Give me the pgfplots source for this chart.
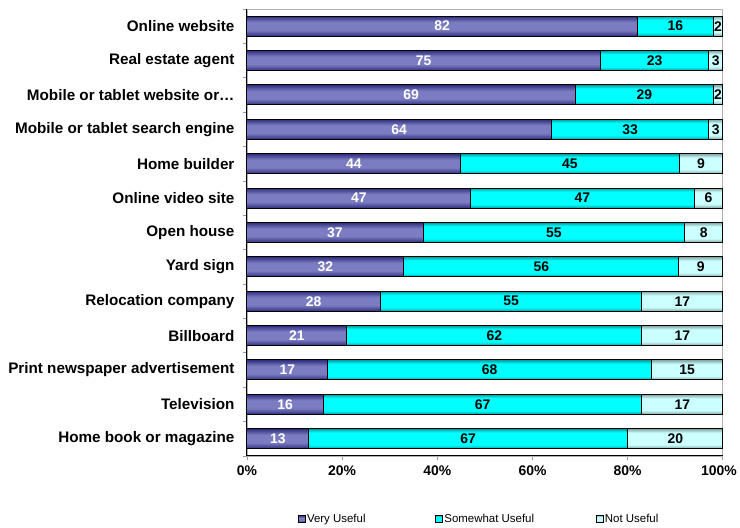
\documentclass[border=0pt]{standalone}
\usepackage{pgfplots}
\pgfplotsset{compat=1.18}
\usepackage{pgfplotstable}
\usepackage{fontspec}
\setmainfont{Liberation Sans}
\definecolor{vuD}{HTML}{2E2E7E}
\definecolor{vuL}{HTML}{7C7CC2}
\definecolor{vuM}{HTML}{5A5AA8}
\definecolor{soD}{HTML}{009C9C}
\definecolor{soL}{HTML}{00FFFF}
\definecolor{nuD}{HTML}{7FA3A3}
\definecolor{nuL}{HTML}{CCFFFF}
% one shading per series, with one dark-light-dark band for each of the 13 bars
% (a series is filled as one path, whose box is mapped onto 25bp..75bp of the shading)
% axis height 447bp, 13 rows -> row 34.3846bp, bar 20bp; box = 12*34.3846+20 = 432.615bp
% scale k = 50/432.615 = 0.115576 ; row -> 3.97404, bar -> 2.31152
\newcommand\mkshade[4]{%
  \gdef\stops{color(0bp)=(#2)}%
  \foreach \i in {0,...,12}{%
    \pgfmathsetmacro\sa{25+3.97404*\i}%
    \pgfmathsetmacro\sb{\sa+#4}%
    \pgfmathsetmacro\sc{\sa+2.31152-#4}%
    \pgfmathsetmacro\sd{\sa+2.31152}%
    \xdef\stops{\stops; color(\sa bp)=(#2); color(\sb bp)=(#3); color(\sc bp)=(#3); color(\sd bp)=(#2)}%
  }%
  \edef\tmp{\noexpand\pgfdeclareverticalshading{#1}{100bp}{\stops; color(100bp)=(#2)}}%
  \tmp
}
\mkshade{vushade}{vuD}{vuL}{0.70}
\mkshade{soshade}{soD}{soL}{0.42}
\mkshade{nushade}{nuD}{nuL}{0.46}
% normalized lengths (vun son nun), segment midpoints (vum som num), printed values (vul sol nul)
\pgfplotstableread{
y vun son nun vum som num vul sol nul
0 82 16 2 41 90 99 82 16 2
1 74.26 22.77 2.97 37.13 85.65 98.51 75 23 3
2 69 29 2 34.5 83.5 99 69 29 2
3 64 33 3 32 80.5 98.5 64 33 3
4 44.90 45.92 9.18 22.45 67.86 95.41 44 45 9
5 47 47 6 23.5 70.5 97 47 47 6
6 37 55 8 18.5 64.5 96 37 55 8
7 32.99 57.73 9.28 16.49 61.86 95.36 32 56 9
8 28 55 17 14 55.5 91.5 28 55 17
9 21 62 17 10.5 52 91.5 21 62 17
10 17 68 15 8.5 51 92.5 17 68 15
11 16 67 17 8 49.5 91.5 16 67 17
12 13 67 20 6.5 46.5 90 13 67 20
}\data
\pgfplotsset{sqlegend/.style={legend image code/.code={\draw[black, line width=0.8bp, fill=#1] (0bp,-3.5bp) rectangle (7bp,3.5bp);}}}
\begin{document}
\begin{tikzpicture}
\begin{axis}[
  name=main, at={(0,0)}, anchor=south west,
  scale only axis, width=476bp, height=447bp,
  xbar stacked, bar width=20bp,
  xmin=0, xmax=100, ymin=-0.5, ymax=12.5, y dir=reverse,
  clip=false,
  axis line style={draw=gray!60, line width=0.8bp},
  tick pos=left, tick align=outside,
  major tick length=4bp,
  xtick={0,20,40,60,80,100},
  xticklabels={0\%,20\%,40\%,60\%,80\%,\hspace*{-8bp}100\%},
  x tick label style={font=\bfseries\fontsize{14}{16}\selectfont, yshift=-2bp},
  ytick={-0.5,0.5,...,12.5},
  yticklabels={,,,,,,,,,,,,,,},
  extra y ticks={0,1,2,3,4,5,6,7,8,9,10,11,12},
  extra y tick labels={Online website,Real estate agent,Mobile or tablet website or…,Mobile or tablet search engine,Home builder,Online video site,Open house,Yard sign,Relocation company,Billboard,Print newspaper advertisement,Television,Home book or magazine},
  extra y tick style={major tick length=0pt, tick label style={font=\bfseries\fontsize{15.3}{17}\selectfont, xshift=-9bp}},
  tick style={gray!80, line width=0.7bp},
  legend style={at={(0.10,-0.141)}, anchor=west, draw=none, fill=none,
    legend columns=3, font=\fontsize{11.5}{13}\selectfont,
    /tikz/column 2/.style={column sep=68bp},
    /tikz/column 4/.style={column sep=60bp},
    nodes={inner xsep=1.5bp}},
]
\addplot[shading=vushade, draw=black, line width=1bp, sqlegend=vuM] table[x=vun, y=y] {\data};
\addplot[shading=soshade, draw=black, line width=1bp, sqlegend=soL!85!black] table[x=son, y=y] {\data};
\addplot[shading=nushade, draw=black, line width=1bp, sqlegend=nuL] table[x=nun, y=y] {\data};
\legend{Very Useful,Somewhat Useful,Not Useful}
\draw[black, line width=1bp] (axis description cs:0,1) -- (axis description cs:0,0) -- (axis description cs:1,0);
\end{axis}
\begin{axis}[
  at={(0,0)}, anchor=south west,
  scale only axis, width=476bp, height=447bp,
  xmin=0, xmax=100, ymin=-0.5, ymax=12.5, y dir=reverse,
  hide axis, clip=false,
]
\addplot[only marks, mark=none, point meta=explicit symbolic, nodes near coords,
  nodes near coords style={anchor=center, inner sep=0pt, font=\bfseries\fontsize{14}{16}\selectfont, text=white}]
  table[x=vum, y=y, meta=vul] {\data};
\addplot[only marks, mark=none, point meta=explicit symbolic, nodes near coords,
  nodes near coords style={anchor=center, inner sep=0pt, font=\bfseries\fontsize{14}{16}\selectfont, text=black}]
  table[x=som, y=y, meta=sol] {\data};
\addplot[only marks, mark=none, point meta=explicit symbolic, nodes near coords,
  nodes near coords style={anchor=center, inner sep=0pt, font=\bfseries\fontsize{14}{16}\selectfont, text=black}]
  table[x=num, y=y, meta=nul] {\data};
\end{axis}
\path (-247bp,-71bp) rectangle (493bp,456bp);
\end{tikzpicture}
\end{document}
